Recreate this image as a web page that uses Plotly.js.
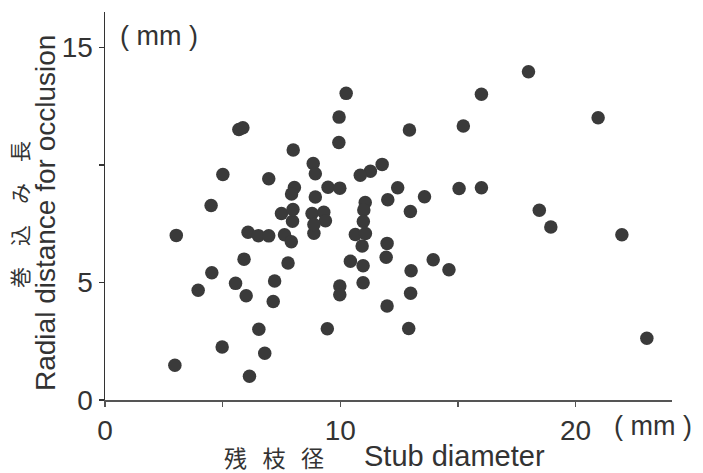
<!DOCTYPE html>
<html>
<head>
<meta charset="utf-8">
<script src="https://cdn.plot.ly/plotly-3.0.1.min.js"></script>
<style>
html,body{margin:0;padding:0;background:#fff;}
#chart{width:703px;height:473px;}
</style>
</head>
<body>
<div id="chart"></div>
<script>
// Stub diameter (mm)
const stubDiameter = [
  18.0, 16.0, 10.25, 9.95, 20.96, 9.94, 12.94, 15.23, 11.78, 11.28,
  10.85, 9.48, 9.98, 15.05, 16.0, 12.44, 12.02, 13.58, 12.98, 11.06,
  11.0, 10.98, 10.64, 11.07, 18.46, 18.95, 21.97, 11.99, 11.95, 10.93,
  10.43, 10.97, 10.97, 9.98, 9.98, 13.01, 12.99, 13.95, 14.62, 11.99,
  12.91, 23.03, 9.45, 3.03, 2.97, 4.98, 6.14, 6.79, 6.54, 3.96,
  4.54, 5.55, 6.0, 5.91, 7.21, 7.15, 7.78, 6.08, 6.52, 6.96,
  7.63, 7.92, 8.88, 7.97, 5.69, 5.86, 8.0, 8.85, 8.94, 5.01,
  6.96, 4.51, 8.05, 7.93, 8.94, 7.5, 7.99, 8.8, 9.3, 9.37, 8.88
];
// Radial distance for occlusion (mm)
const radialDistance = [
  13.96, 13.0, 13.04, 12.03, 12.0, 10.95, 11.48, 11.65, 10.02, 9.73,
  9.56, 9.05, 9.01, 8.99, 9.03, 9.03, 8.52, 8.64, 8.02, 8.4,
  8.08, 7.59, 7.04, 7.08, 8.07, 7.36, 7.03, 6.66, 6.07, 6.55,
  5.9, 5.71, 4.99, 4.85, 4.48, 5.5, 4.54, 5.96, 5.54, 4.0,
  3.04, 2.63, 3.03, 7.0, 1.48, 2.25, 1.01, 1.99, 3.01, 4.67,
  5.41, 4.96, 4.43, 5.99, 5.06, 4.19, 5.83, 7.13, 6.99, 6.98,
  7.03, 6.73, 7.09, 7.6, 11.5, 11.58, 10.63, 10.06, 9.62, 9.59,
  9.41, 8.27, 9.04, 8.76, 8.63, 7.93, 8.1, 7.93, 7.98, 7.62, 7.46
];
const xTickVals = [0, 5, 10, 15, 20];
const xTickText = ['0', '', '10', '', '20'];
const yTickVals = [0, 5, 10, 15];
const yTickText = ['0', '5', '', '15'];

const FONT = 'Liberation Sans, Arial, sans-serif';
const CJK = 'Noto Sans CJK JP, sans-serif';
const INK = '#333';

const L = 105, R = 672, T = 12, B = 400, W = 703, H = 473;
const px = v => (v - L) / (R - L);
const py = v => (B - v) / (B - T);

const trace = {
  type: 'scatter', mode: 'markers',
  x: stubDiameter, y: radialDistance,
  marker: {size: 13.5, color: '#3a3a3a', line: {width: 0}},
  hoverinfo: 'x+y'
};

function ann(x, y, text, font, angle) {
  return {xref: 'paper', yref: 'paper', x: px(x), y: py(y), text: text,
    xanchor: 'center', yanchor: 'middle', textangle: angle || 0,
    showarrow: false, font: font};
}

const NB = '\u00a0\u00a0\u00a0';

const layout = {
  width: W, height: H,
  margin: {l: L, r: W - R, t: T, b: H - B},
  paper_bgcolor: '#fff', plot_bgcolor: '#fff',
  showlegend: false,
  font: {family: FONT, color: INK},
  xaxis: {
    range: [0, 24.1], showgrid: false, zeroline: false,
    showline: true, linecolor: '#555', linewidth: 1.5,
    ticks: 'outside', ticklen: 5, tickwidth: 1.5, tickcolor: '#555',
    tickvals: xTickVals, ticktext: xTickText,
    tickfont: {family: FONT, size: 28, color: INK}
  },
  yaxis: {
    range: [0, 16.5], showgrid: false, zeroline: false,
    showline: true, linecolor: '#333', linewidth: 1.5,
    ticks: 'outside', ticklen: 5, tickwidth: 1.5, tickcolor: '#333',
    tickvals: yTickVals, ticktext: yTickText,
    tickfont: {family: FONT, size: 28, color: INK}
  },
  annotations: [
    ann(159, 36, '( mm )', {family: FONT, size: 27, color: INK}),
    ann(653, 426, '( mm )', {family: FONT, size: 27, color: INK}),
    ann(274, 457, '残' + NB + '枝' + NB + '径', {family: CJK, size: 23, color: INK}),
    ann(454, 456, 'Stub diameter', {family: FONT, size: 29, color: INK}),
    ann(19, 215, '巻　込　み　長', {family: CJK, size: 21, color: INK}, -90),
    ann(46, 213, 'Radial distance for occlusion', {family: FONT, size: 28, color: INK}, -90)
  ]
};

Plotly.newPlot('chart', [trace], layout, {displayModeBar: false, staticPlot: true});
</script>
</body>
</html>
